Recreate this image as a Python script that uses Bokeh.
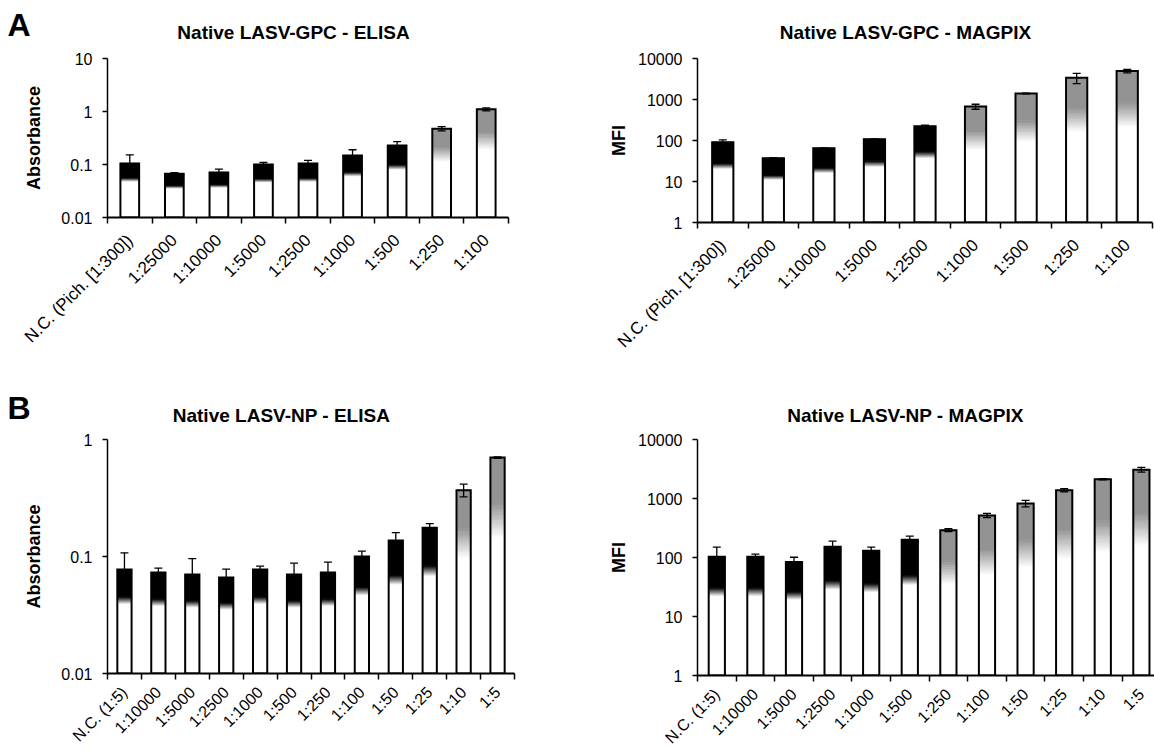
import math
from bokeh.plotting import figure
from bokeh.models import Range1d, FixedTicker, Whisker, TeeHead, ColumnDataSource, Spacer
from bokeh.layouts import row, column
from bokeh.embed import file_html
from bokeh.resources import INLINE

# ---------------- data ----------------
gpc_categories = ["N.C. (Pich. [1:300])", "1:25000", "1:10000", "1:5000", "1:2500",
                  "1:1000", "1:500", "1:250", "1:100"]
np_categories = ["N.C. (1:5)", "1:10000", "1:5000", "1:2500", "1:1000", "1:500",
                 "1:250", "1:100", "1:50", "1:25", "1:10", "1:5"]

gpc_elisa = [0.105, 0.067, 0.071, 0.100, 0.104, 0.148, 0.228, 0.475, 1.10]
gpc_elisa_sd = [0.047, 0.003, 0.011, 0.009, 0.016, 0.042, 0.042, 0.045, 0.07]
gpc_elisa_pos = [0, 0, 0, 0, 0, 0, 0, 1, 1]

gpc_magpix = [91, 37, 65, 108, 223, 672, 1400, 3400, 4960]
gpc_magpix_sd = [13, 1, 1, 2, 13, 94, 30, 950, 490]
gpc_magpix_pos = [0, 0, 0, 0, 0, 1, 1, 1, 1]

np_elisa = [0.0774, 0.073, 0.070, 0.066, 0.0774, 0.070, 0.073, 0.100, 0.137, 0.176, 0.369, 0.70]
np_elisa_sd = [0.030, 0.0065, 0.026, 0.012, 0.0052, 0.0177, 0.0165, 0.011, 0.023, 0.015, 0.046, 0.01]
np_elisa_pos = [0, 0, 0, 0, 0, 0, 0, 0, 0, 0, 1, 1]

np_magpix = [103, 103, 84, 152, 130, 199, 291, 516, 826, 1385, 2120, 3080]
np_magpix_sd = [47, 11, 17, 37, 20, 31, 16, 42, 103, 90, 40, 280]
np_magpix_pos = [0, 0, 0, 0, 0, 0, 1, 1, 1, 1, 1, 1]

elisa_gpc_ticks = [0.01, 0.1, 1, 10]
elisa_np_ticks = [0.01, 0.1, 1]
magpix_ticks = [1, 10, 100, 1000, 10000]

titles = ["Native LASV-GPC - ELISA", "Native LASV-GPC - MAGPIX",
          "Native LASV-NP - ELISA", "Native LASV-NP - MAGPIX"]
letters = ["A", "B"]

# ---------------- style ----------------
FONT = "Liberation Sans"
NEG_COLOR = "#000000"
POS_COLOR = "#939393"


def mix(color, t):
    r, g, b = int(color[1:3], 16), int(color[3:5], 16), int(color[5:7], 16)
    return "#%02x%02x%02x" % tuple(int(round(255 + (c - 255) * t)) for c in (r, g, b))


def text_strip(text, width, height, border_top, size, align="center", offset=0):
    """Small empty figure whose title carries a heading text."""
    h = figure(width=width, height=height, x_range=Range1d(0, 1), y_range=Range1d(0, 1),
               x_axis_type=None, y_axis_type=None, toolbar_location=None,
               min_border_left=0, min_border_right=0, min_border_bottom=0,
               min_border_top=border_top, output_backend="svg", outline_line_color=None)
    h.grid.visible = False
    t = h.title
    t.text = text
    t.align = align
    t.offset = offset
    t.vertical_align = "bottom"
    t.standoff = 0
    t.text_font = FONT
    t.text_font_style = "bold"
    t.text_font_size = size
    t.text_color = "black"
    return h


def make_panel(cats, vals, sds, pos, y_lo, y_hi, yticks, ylabel, ylabel_standoff,
               fig_left, fig_top, fig_w, fig_h, fr_left, fr_top, fw, fh,
               x_end=None, xlab_size="16px", xlab_standoff=14):
    n = len(cats)
    if x_end is None:
        x_end = n
    p = figure(frame_width=fw, frame_height=fh,
               min_border_left=fr_left - fig_left,
               min_border_right=(fig_left + fig_w) - (fr_left + fw),
               min_border_top=fr_top - fig_top,
               min_border_bottom=(fig_top + fig_h) - (fr_top + fh),
               x_range=Range1d(0, x_end), y_range=Range1d(y_lo, y_hi),
               y_axis_type="log", output_backend="svg", toolbar_location=None,
               background_fill_color="white", border_fill_color="white")
    p.title.visible = False
    p.grid.visible = False
    p.outline_line_color = None

    xs = [i + 0.5 for i in range(n)]
    lo = math.log10(y_lo)
    seg_x, seg_b, seg_t, seg_c = [], [], [], []
    for x, v, ps in zip(xs, vals, pos):
        hi = math.log10(v)
        col = POS_COLOR if ps else NEG_COLOR
        fa, fb = (0.63, 0.79) if ps else (0.67, 0.74)
        nsteps = 14
        seg_x.append(x); seg_b.append(y_lo); seg_t.append(10 ** (lo + fa * (hi - lo))); seg_c.append("#ffffff")
        for k in range(nsteps):
            f0 = fa + (fb - fa) * k / nsteps
            f1 = fa + (fb - fa) * (k + 1) / nsteps
            seg_x.append(x)
            seg_b.append(10 ** (lo + f0 * (hi - lo)))
            seg_t.append(10 ** (lo + f1 * (hi - lo)))
            seg_c.append(mix(col, (k + 0.5) / nsteps))
        seg_x.append(x); seg_b.append(10 ** (lo + fb * (hi - lo))); seg_t.append(v); seg_c.append(col)

    bw = 0.42
    p.vbar(x=seg_x, width=bw, bottom=seg_b, top=seg_t, fill_color=seg_c,
           line_color=seg_c, line_width=0.6)
    p.vbar(x=xs, width=bw, bottom=[y_lo] * n, top=vals, fill_color=None,
           line_color="black", line_width=2, line_join="miter")

    up_src = ColumnDataSource(dict(base=xs, lower=vals, upper=[v + s for v, s in zip(vals, sds)]))
    p.add_layout(Whisker(source=up_src, base="base", lower="lower", upper="upper",
                         dimension="height", line_color="black", line_width=1.3,
                         upper_head=TeeHead(size=8, line_width=1.3, line_color="black"),
                         lower_head=None, level="annotation"))
    gx = [x for x, ps in zip(xs, pos) if ps]
    gv = [v for v, ps in zip(vals, pos) if ps]
    gs = [s for s, ps in zip(sds, pos) if ps]
    if gx:
        lo_src = ColumnDataSource(dict(base=gx, lower=[v - s for v, s in zip(gv, gs)], upper=gv))
        p.add_layout(Whisker(source=lo_src, base="base", lower="lower", upper="upper",
                             dimension="height", line_color="black", line_width=1.3,
                             lower_head=TeeHead(size=8, line_width=1.3, line_color="black"),
                             upper_head=None, level="annotation"))

    # x axis: labels at centres, ticks at category boundaries
    xa = p.xaxis[0]
    xa.ticker = FixedTicker(ticks=xs, minor_ticks=list(range(n + 1)))
    xa.major_label_overrides = {x: c for x, c in zip(xs, cats)}
    xa.major_label_orientation = math.pi / 4
    xa.major_tick_in = 0
    xa.major_tick_out = 0
    xa.minor_tick_in = 0
    xa.minor_tick_out = 6
    xa.minor_tick_line_width = 1.5
    xa.minor_tick_line_color = "black"
    xa.axis_line_width = 2
    xa.axis_line_color = "black"
    xa.major_label_standoff = xlab_standoff
    xa.major_label_text_font = FONT
    xa.major_label_text_font_size = xlab_size
    xa.major_label_text_color = "black"

    ya = p.yaxis[0]
    ya.ticker = FixedTicker(ticks=yticks, minor_ticks=[])
    ya.major_label_overrides = {t: ("%g" % t) for t in yticks}
    ya.major_tick_in = 0
    ya.major_tick_out = 5
    ya.major_tick_line_width = 1.5
    ya.major_tick_line_color = "black"
    ya.axis_line_width = 1.5
    ya.axis_line_color = "black"
    ya.major_label_standoff = 10
    ya.major_label_text_font = FONT
    ya.major_label_text_font_size = "16px"
    ya.major_label_text_color = "black"
    ya.axis_label = ylabel
    ya.axis_label_text_font = FONT
    ya.axis_label_text_font_style = "bold"
    ya.axis_label_text_font_size = "18px"
    ya.axis_label_text_color = "black"
    ya.axis_label_standoff = ylabel_standoff
    return p


# heading strips: letter | title (centred at x=293 / 281) | gap | title (centred at x=905)
head1 = row(text_strip(letters[0], 50, 44, 42, "32px", align="left", offset=7),
            text_strip(titles[0], 486, 44, 40, "19px"),
            Spacer(width=120, height=44),
            text_strip(titles[1], 498, 44, 40, "19px"))
head2 = row(text_strip(letters[1], 50, 56, 55, "32px", align="left", offset=7),
            text_strip(titles[2], 462, 56, 49, "19px"),
            Spacer(width=144, height=56),
            text_strip(titles[3], 498, 56, 49, "19px"))

p1 = make_panel(gpc_categories, gpc_elisa, gpc_elisa_sd, gpc_elisa_pos, 0.01, 10, elisa_gpc_ticks,
                "Absorbance", 14, 0, 44, 590, 326, 107, 58, 401, 159,
                xlab_size="17px", xlab_standoff=14)
p2 = make_panel(gpc_categories, gpc_magpix, gpc_magpix_sd, gpc_magpix_pos, 1, 10000, magpix_ticks,
                "MFI", 6, 590, 44, 564, 326, 697, 58, 455, 164,
                xlab_size="17px", xlab_standoff=14)
p3 = make_panel(np_categories, np_elisa, np_elisa_sd, np_elisa_pos, 0.01, 1, elisa_np_ticks,
                "Absorbance", 14, 0, 426, 590, 325, 107, 439, 407, 234,
                xlab_size="16px", xlab_standoff=10)
p4 = make_panel(np_categories, np_magpix, np_magpix_sd, np_magpix_pos, 1, 10000, magpix_ticks,
                "MFI", 6, 590, 426, 564, 325, 697, 439, 457, 236, x_end=11.84,
                xlab_size="16px", xlab_standoff=10)

layout = column(head1, row(p1, p2), head2, row(p3, p4))
open("out.html", "w").write(file_html(layout, INLINE))
